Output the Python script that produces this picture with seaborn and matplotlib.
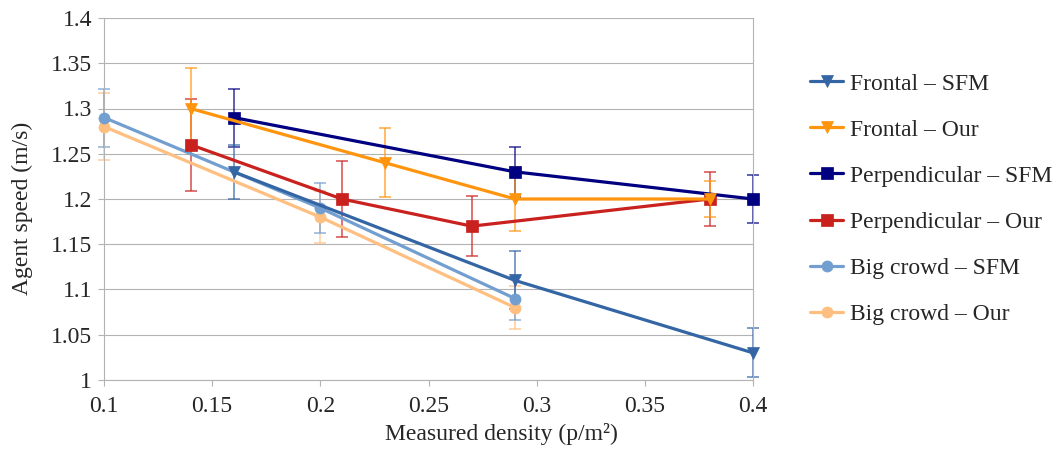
import matplotlib
matplotlib.use("Agg")
import matplotlib.pyplot as plt
import seaborn as sns
import pandas as pd
from matplotlib.ticker import FuncFormatter

# series data
series_names = ["Frontal – SFM", "Frontal – Our", "Perpendicular – SFM",
                "Perpendicular – Our", "Big crowd – SFM", "Big crowd – Our"]

frontal_sfm_x = [0.16, 0.29, 0.40]
frontal_sfm_y = [1.23, 1.11, 1.03]
frontal_sfm_err = [0.030, 0.032, 0.027]

frontal_our_x = [0.14, 0.23, 0.29, 0.38]
frontal_our_y = [1.30, 1.24, 1.20, 1.20]
frontal_our_err = [0.045, 0.038, 0.035, 0.020]

perp_sfm_x = [0.16, 0.29, 0.40]
perp_sfm_y = [1.29, 1.23, 1.20]
perp_sfm_err = [0.032, 0.028, 0.026]

perp_our_x = [0.14, 0.21, 0.27, 0.38]
perp_our_y = [1.26, 1.20, 1.17, 1.20]
perp_our_err = [0.051, 0.042, 0.033, 0.030]

crowd_sfm_x = [0.10, 0.20, 0.29]
crowd_sfm_y = [1.29, 1.19, 1.09]
crowd_sfm_err = [0.032, 0.028, 0.024]

crowd_our_x = [0.10, 0.20, 0.29]
crowd_our_y = [1.28, 1.18, 1.08]
crowd_our_err = [0.037, 0.029, 0.024]

xs = [frontal_sfm_x, frontal_our_x, perp_sfm_x, perp_our_x, crowd_sfm_x, crowd_our_x]
ys = [frontal_sfm_y, frontal_our_y, perp_sfm_y, perp_our_y, crowd_sfm_y, crowd_our_y]
errs = [frontal_sfm_err, frontal_our_err, perp_sfm_err, perp_our_err, crowd_sfm_err, crowd_our_err]

colors = ["#3465a4", "#ff950e", "#000080", "#c9211e", "#729fcf", "#ffbf80"]
markers = ["v", "v", "s", "s", "o", "o"]

sns.set_style("white")
plt.rcParams['font.family'] = ['Liberation Serif', 'DejaVu Serif']
fs = 17

fig = plt.figure(figsize=(10.56, 4.55), dpi=100)
ax = fig.add_axes([104/1056, 1 - 380/455, (753-104)/1056, (380-18)/455])

# draw last series first so the earlier ones sit on top
for i in reversed(range(len(series_names))):
    df = pd.DataFrame({"x": xs[i], "y": ys[i]})
    eb = ax.errorbar(df["x"], df["y"], yerr=errs[i], fmt="none", ecolor=colors[i],
                     elinewidth=1.1, capsize=4, capthick=1.1, alpha=0.8, zorder=2)
    for art in eb.get_children():
        art.set_clip_on(False)
    sns.lineplot(data=df, x="x", y="y", ax=ax, sort=False, color=colors[i],
                 marker=markers[i], markersize=9 if markers[i] == "v" else 8,
                 markeredgecolor=colors[i], markeredgewidth=0.5,
                 linewidth=2.3, label=series_names[i], zorder=3, clip_on=False)

handles, labels = ax.get_legend_handles_labels()
ax.get_legend().remove()
order = [labels.index(n) for n in series_names]
fig.legend([handles[k] for k in order], [labels[k] for k in order],
           loc="center left", bbox_to_anchor=(810/1056, 1 - 199/455),
           frameon=False, borderpad=0, borderaxespad=0,
           handlelength=1.4, handletextpad=0.3, labelspacing=1.04, fontsize=fs)

ax.set_xlim(0.1, 0.4)
ax.set_ylim(1.0, 1.4)
ax.set_xticks([0.1, 0.15, 0.2, 0.25, 0.3, 0.35, 0.4])
ax.set_yticks([1.0, 1.05, 1.1, 1.15, 1.2, 1.25, 1.3, 1.35, 1.4])
ax.yaxis.set_major_formatter(FuncFormatter(lambda v, p: f"{v:g}"))
ax.xaxis.set_major_formatter(FuncFormatter(lambda v, p: f"{v:g}"))

ax.grid(axis="y", color="#b3b3b3", linewidth=0.8)
ax.grid(axis="x", visible=False)
ax.set_axisbelow(True)
for side in ["left", "bottom", "right"]:
    ax.spines[side].set_color("#b3b3b3")
    ax.spines[side].set_linewidth(0.8)
ax.spines["top"].set_visible(False)
ax.tick_params(axis="both", direction="out", length=4.5, width=0.8,
               color="#b3b3b3", labelsize=fs, left=True, bottom=True)
ax.tick_params(axis="x", pad=7)
ax.tick_params(axis="y", pad=4)

ax.set_xlabel("Measured density (p/m²)", fontsize=fs)
ax.set_ylabel("Agent speed (m/s)", fontsize=fs)
ax.xaxis.set_label_coords(0.613, -0.118)
ax.yaxis.set_label_coords(-0.11, 0.475)

fig.savefig("out.png", dpi=100)
